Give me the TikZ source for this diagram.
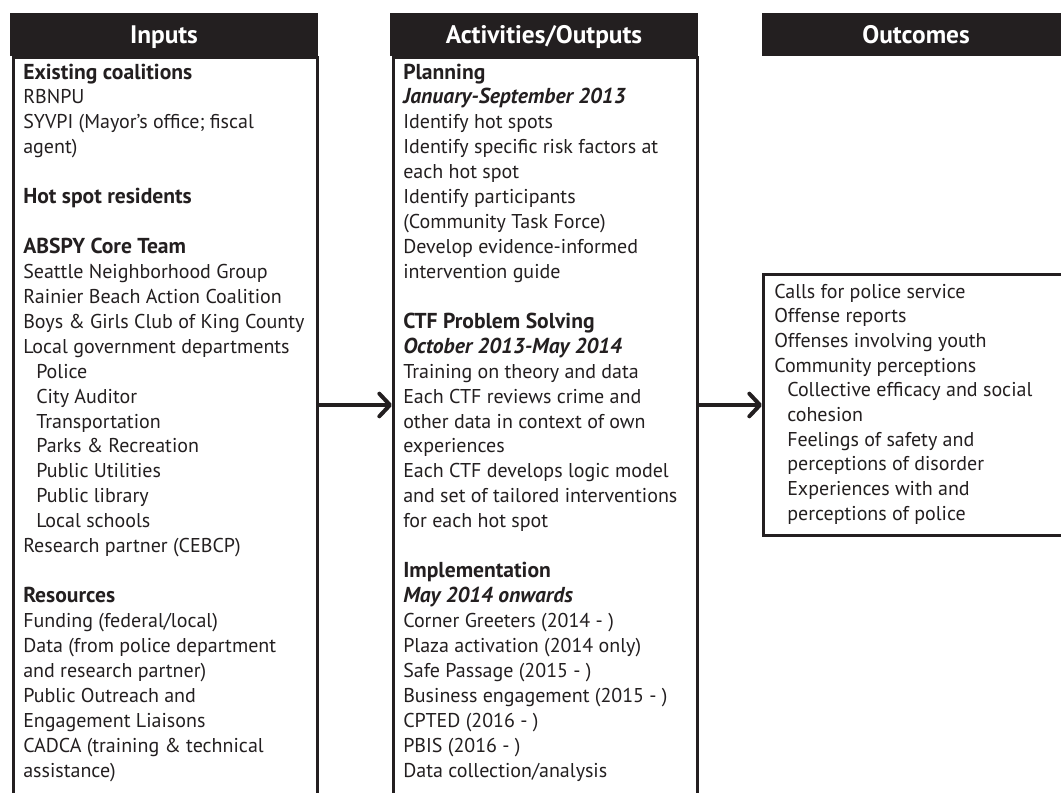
\documentclass[tikz,border=0pt]{standalone}
\usepackage{fontspec}
\setmainfont{PT Sans}
\usetikzlibrary{arrows.meta}
\definecolor{ink}{HTML}{231F20}
\begin{document}
\begin{tikzpicture}[x=0.75pt,y=-0.75pt,
  txt/.style={anchor=base west, inner sep=0pt, text=ink, font=\fontsize{15}{18}\selectfont},
  bd/.style={txt, font=\fontsize{16.2}{18}\selectfont\bfseries},
  bi/.style={txt, font=\fontsize{16.2}{18}\selectfont\bfseries\itshape},
  hdr/.style={fill=ink, draw=none, minimum width=231pt, minimum height=32.25pt, inner sep=0pt,
    text=white, font=\fontsize{19}{20}\selectfont\bfseries, text height=13pt, text depth=0pt},
  colbody/.style={draw=ink, line width=2.25pt, fill=white, inner sep=0pt, anchor=north west},
  arr/.style={draw=ink, line width=3pt, -{Straight Barb[length=8pt,width=17pt,round]}}]
\useasboundingbox (0,0) rectangle (1061,793);
\clip (0,0) rectangle (1061,793);
\newcommand\IL[5]{\node[#1] (#2) at (#3,{79+24.93*#4}) {#5};}
\newcommand\OL[5]{\node[#1] (#2) at (#3,{298+24.7*#4}) {#5};}
% column bodies
\node[colbody, minimum width=228pt, minimum height=580pt] (inbody) at (12,56) {};
\node[colbody, minimum width=228pt, minimum height=580pt] (actbody) at (392,56) {};
\node[colbody, minimum width=240pt, minimum height=195.75pt] (outbox) at (762,273) {};
% headers
\node[hdr] (hin) at (164,34.5) {Inputs};
\node[hdr] (hact) at (544,34.5) {Activities/Outputs};
\node[hdr] (hout) at (916,34.5) {Outcomes};
% arrows
\draw[arr] (inbody.east |- outbox.west) -- (actbody.west |- outbox.west);
\draw[arr] (actbody.east |- outbox.west) -- (outbox.west);
% inputs text
\IL{bd}{i0}{23}{0}{Existing coalitions}
\IL{txt}{i1}{23}{1}{RBNPU}
\IL{txt}{i2}{23}{2}{SYVPI (Mayor’s office; fiscal}
\IL{txt}{i3}{23}{3}{agent)}
\IL{bd}{i5}{23}{5}{Hot spot residents}
\IL{bd}{i7}{23}{7}{ABSPY Core Team}
\IL{txt}{i8}{23}{8}{Seattle Neighborhood Group}
\IL{txt}{i9}{23}{9}{Rainier Beach Action Coalition}
\IL{txt}{i10}{23}{10}{Boys \& Girls Club of King County}
\IL{txt}{i11}{23}{11}{Local government departments}
\IL{txt}{i12}{36}{12}{Police}
\IL{txt}{i13}{36}{13}{City Auditor}
\IL{txt}{i14}{36}{14}{Transportation}
\IL{txt}{i15}{36}{15}{Parks \& Recreation}
\IL{txt}{i16}{36}{16}{Public Utilities}
\IL{txt}{i17}{36}{17}{Public library}
\IL{txt}{i18}{36}{18}{Local schools}
\IL{txt}{i19}{23}{19}{Research partner (CEBCP)}
\IL{bd}{i21}{23}{21}{Resources}
\IL{txt}{i22}{23}{22}{Funding (federal/local)}
\IL{txt}{i23}{23}{23}{Data (from police department}
\IL{txt}{i24}{23}{24}{and research partner)}
\IL{txt}{i25}{23}{25}{Public Outreach and}
\IL{txt}{i26}{23}{26}{Engagement Liaisons}
\IL{txt}{i27}{23}{27}{CADCA (training \& technical}
\IL{txt}{i28}{23}{28}{assistance)}
% activities text
\IL{bd}{a0}{403}{0}{Planning}
\IL{bi}{a1}{403}{1}{January-September 2013}
\IL{txt}{a2}{403}{2}{Identify hot spots}
\IL{txt}{a3}{403}{3}{Identify specific risk factors at}
\IL{txt}{a4}{403}{4}{each hot spot}
\IL{txt}{a5}{403}{5}{Identify participants}
\IL{txt}{a6}{403}{6}{(Community Task Force)}
\IL{txt}{a7}{403}{7}{Develop evidence-informed}
\IL{txt}{a8}{403}{8}{intervention guide}
\IL{bd}{a10}{403}{10}{CTF Problem Solving}
\IL{bi}{a11}{403}{11}{October 2013-May 2014}
\IL{txt}{a12}{403}{12}{Training on theory and data}
\IL{txt}{a13}{403}{13}{Each CTF reviews crime and}
\IL{txt}{a14}{403}{14}{other data in context of own}
\IL{txt}{a15}{403}{15}{experiences}
\IL{txt}{a16}{403}{16}{Each CTF develops logic model}
\IL{txt}{a17}{403}{17}{and set of tailored interventions}
\IL{txt}{a18}{403}{18}{for each hot spot}
\IL{bd}{a20}{403}{20}{Implementation}
\IL{bi}{a21}{403}{21}{May 2014 onwards}
\IL{txt}{a22}{403}{22}{Corner Greeters (2014 - )}
\IL{txt}{a23}{403}{23}{Plaza activation (2014 only)}
\IL{txt}{a24}{403}{24}{Safe Passage (2015 - )}
\IL{txt}{a25}{403}{25}{Business engagement (2015 - )}
\IL{txt}{a26}{403}{26}{CPTED (2016 - )}
\IL{txt}{a27}{403}{27}{PBIS (2016 - )}
\IL{txt}{a28}{403}{28}{Data collection/analysis}
% outcomes text
\OL{txt}{o0}{774}{0}{Calls for police service}
\OL{txt}{o1}{774}{1}{Offense reports}
\OL{txt}{o2}{774}{2}{Offenses involving youth}
\OL{txt}{o3}{774}{3}{Community perceptions}
\OL{txt}{o4}{787}{4}{Collective efficacy and social}
\OL{txt}{o5}{787}{5}{cohesion}
\OL{txt}{o6}{787}{6}{Feelings of safety and}
\OL{txt}{o7}{787}{7}{perceptions of disorder}
\OL{txt}{o8}{787}{8}{Experiences with and}
\OL{txt}{o9}{787}{9}{perceptions of police}
\end{tikzpicture}
\end{document}
